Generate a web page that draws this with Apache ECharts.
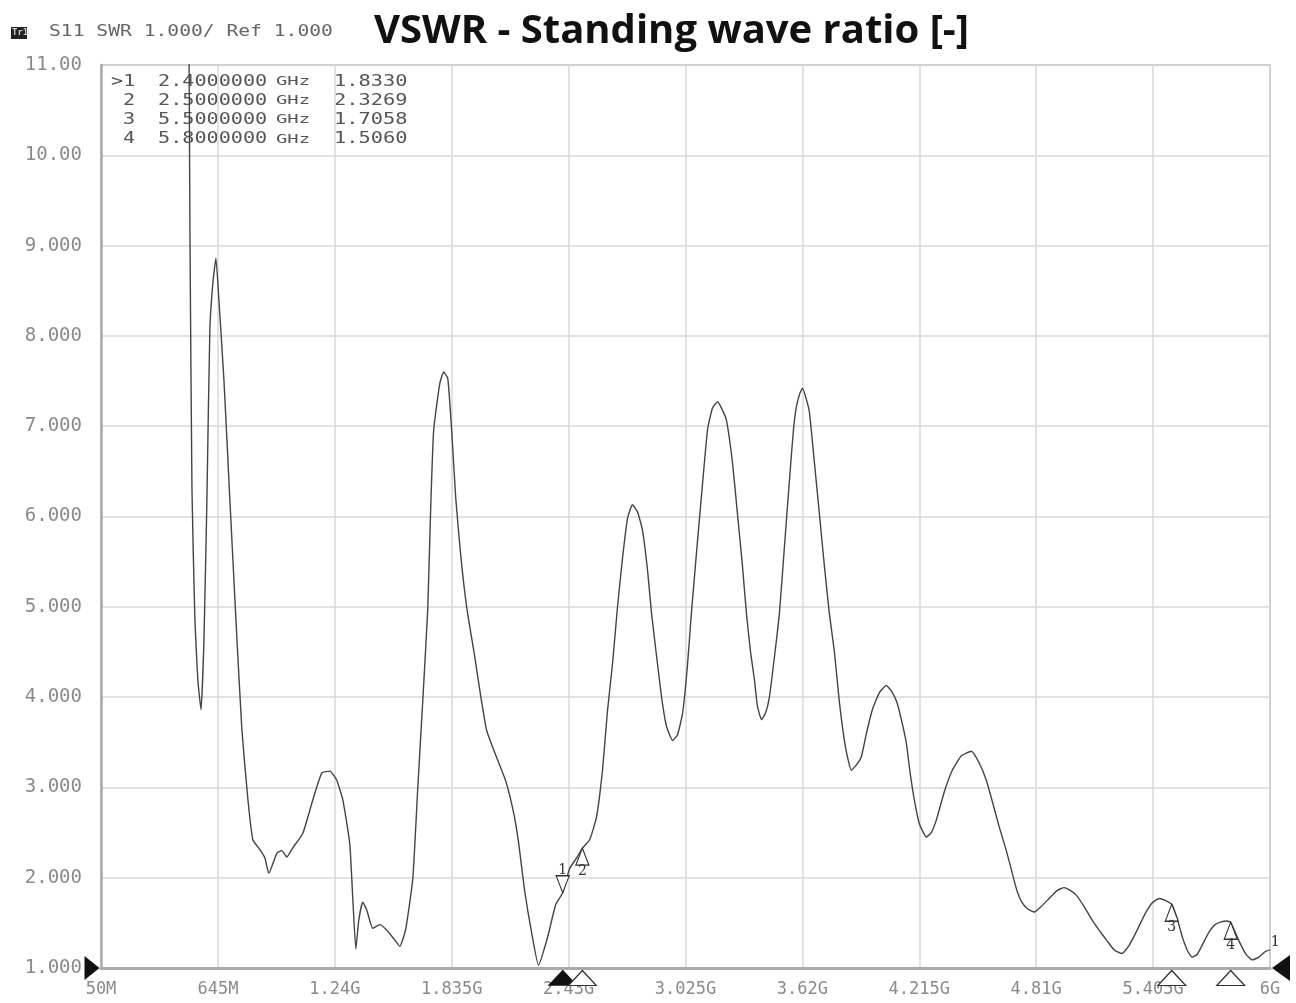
<!DOCTYPE html>
<html><head><meta charset="utf-8">
<script src="https://cdn.jsdelivr.net/npm/echarts@6/dist/echarts.min.js"></script>
<style>html,body{margin:0;padding:0;background:#fff}#c{width:1296px;height:1003px}</style>
</head><body><div id="c"></div>
<script>
// ---- data ----
const startMHz = 50;          // sweep start
const spanStepMHz = 595;      // division width
const freqMHz = [50, 300, 480, 492, 498, 503, 513, 528, 543, 559, 574, 589, 604, 620, 635, 650, 676, 706, 737, 767, 798, 823, 859, 884, 904, 945, 970, 996, 1026, 1077, 1128, 1174, 1215, 1250, 1281, 1316, 1332, 1347, 1362, 1382, 1403, 1433, 1469, 1504, 1545, 1571, 1601, 1637, 1662, 1688, 1713, 1728, 1743, 1774, 1794, 1815, 1835, 1855, 1881, 1911, 1952, 1982, 2013, 2064, 2110, 2150, 2176, 2206, 2242, 2277, 2323, 2364, 2400, 2435, 2471, 2500, 2537, 2572, 2603, 2628, 2654, 2679, 2705, 2730, 2755, 2781, 2806, 2832, 2852, 2878, 2903, 2928, 2959, 2984, 3010, 3035, 3055, 3081, 3106, 3137, 3162, 3188, 3208, 3233, 3264, 3289, 3315, 3335, 3356, 3376, 3391, 3412, 3432, 3452, 3478, 3503, 3528, 3554, 3574, 3589, 3605, 3620, 3640, 3656, 3681, 3706, 3732, 3757, 3783, 3808, 3839, 3869, 3895, 3920, 3946, 3976, 4012, 4047, 4078, 4103, 4129, 4149, 4169, 4190, 4215, 4251, 4276, 4302, 4342, 4383, 4429, 4480, 4520, 4556, 4586, 4622, 4658, 4688, 4713, 4739, 4769, 4800, 4835, 4876, 4917, 4952, 4983, 5013, 5054, 5095, 5130, 5171, 5207, 5247, 5283, 5324, 5364, 5400, 5436, 5466, 5500, 5527, 5553, 5578, 5603, 5629, 5659, 5690, 5720, 5751, 5780, 5800, 5842, 5878, 5909, 5944, 5975, 6000];
const vswr = [25, 22, 16, 13, 11.2, 9.06, 6.3, 4.85, 4.19, 3.86, 4.63, 6.18, 8.07, 8.6, 8.86, 8.4, 7.5, 6.18, 4.85, 3.64, 2.86, 2.42, 2.31, 2.22, 2.05, 2.27, 2.30, 2.23, 2.33, 2.49, 2.86, 3.16, 3.18, 3.08, 2.86, 2.38, 1.75, 1.21, 1.53, 1.73, 1.64, 1.44, 1.48, 1.42, 1.31, 1.24, 1.43, 1.99, 2.98, 3.97, 4.97, 6.09, 6.95, 7.47, 7.60, 7.53, 6.95, 6.22, 5.57, 5.00, 4.45, 4.02, 3.63, 3.33, 3.07, 2.72, 2.38, 1.86, 1.39, 1.03, 1.34, 1.70, 1.833, 2.10, 2.22, 2.327, 2.42, 2.67, 3.20, 3.85, 4.38, 5.00, 5.55, 5.98, 6.13, 6.05, 5.85, 5.40, 4.93, 4.45, 4.00, 3.68, 3.52, 3.58, 3.82, 4.35, 4.93, 5.60, 6.22, 6.96, 7.20, 7.27, 7.20, 7.07, 6.60, 6.04, 5.45, 4.93, 4.50, 4.19, 3.90, 3.75, 3.82, 4.00, 4.45, 4.93, 5.65, 6.40, 6.95, 7.21, 7.35, 7.42, 7.30, 7.15, 6.60, 6.04, 5.45, 4.93, 4.50, 3.95, 3.45, 3.19, 3.25, 3.34, 3.60, 3.86, 4.05, 4.13, 4.05, 3.93, 3.70, 3.49, 3.15, 2.86, 2.60, 2.45, 2.50, 2.64, 2.95, 3.19, 3.35, 3.40, 3.27, 3.08, 2.85, 2.56, 2.30, 2.05, 1.85, 1.72, 1.65, 1.62, 1.68, 1.77, 1.86, 1.89, 1.86, 1.81, 1.68, 1.53, 1.42, 1.30, 1.20, 1.16, 1.25, 1.42, 1.60, 1.72, 1.77, 1.75, 1.706, 1.55, 1.35, 1.20, 1.12, 1.15, 1.27, 1.40, 1.48, 1.51, 1.52, 1.506, 1.30, 1.15, 1.09, 1.12, 1.18, 1.20];
const xTickLabels = ['50M', '645M', '1.24G', '1.835G', '2.43G', '3.025G', '3.62G', '4.215G', '4.81G', '5.405G', '6G'];
const yTickLabels = ['1.000', '2.000', '3.000', '4.000', '5.000', '6.000', '7.000', '8.000', '9.000', '10.00', '11.00'];
const markerIds = ['>1', '2', '3', '4'];
const markerFreqMHz = [2400, 2500, 5500, 5800];
const markerVswr = [1.833, 2.3269, 1.7058, 1.5060];
const markerFreqText = ['2.4000000', '2.5000000', '5.5000000', '5.8000000'];
const markerValText = ['1.8330', '2.3269', '1.7058', '1.5060'];
const headerText = 'S11 SWR 1.000/ Ref 1.000';
const titleText = 'VSWR - Standing wave ratio [-]';

// ---- chart ----
const MONO = 'DejaVu Sans Mono';
const chart = echarts.init(document.getElementById('c'));
const seriesData = freqMHz.map((f, i) => [f - startMHz, vswr[i]]);

const mpData = [];
markerFreqMHz.forEach((f, i) => {
  const active = i === 0;
  // on-trace marker
  mpData.push({
    coord: [f - startMHz, markerVswr[i]],
    symbol: 'triangle',
    symbolRotate: active ? 180 : 0,
    symbolSize: [13, 17],
    symbolOffset: [0, active ? -8.5 : 8.5],
    itemStyle: {color: '#fff', borderColor: '#333', borderWidth: 1.2},
    label: {show: true, formatter: String(i + 1), position: active ? 'top' : 'bottom', distance: -2,
      color: '#333', fontFamily: 'DejaVu Serif', fontSize: 14}
  });
  // axis marker
  mpData.push({
    coord: [f - startMHz, 1],
    symbol: 'triangle',
    symbolSize: [28, 15],
    symbolOffset: [0, 10],
    itemStyle: active ? {color: '#111', borderColor: '#111', borderWidth: 1} : {color: '#fff', borderColor: '#333', borderWidth: 1.2},
    label: {show: false}
  });
});
// reference level arrows
mpData.push({coord: [0, 1], symbol: 'triangle', symbolRotate: -90, symbolSize: [24, 15], symbolOffset: [-9, 0],
  itemStyle: {color: '#111'}, label: {show: false}});
mpData.push({coord: [6000 - startMHz, 1], symbol: 'triangle', symbolRotate: 90, symbolSize: [26, 18], symbolOffset: [11, 0],
  itemStyle: {color: '#111'}, label: {show: false}});
// trace number label
mpData.push({coord: [6000 - startMHz, 1.29], symbol: 'rect', symbolSize: 1, itemStyle: {color: 'rgba(0,0,0,0)'},
  label: {show: true, formatter: '1', position: 'right', distance: 0, color: '#333', fontFamily: 'DejaVu Serif', fontSize: 15}});

const graphics = [
  {type: 'rect', x: 11, y: 27, shape: {width: 16, height: 12}, style: {fill: '#222'}},
  {type: 'text', x: 12, y: 28, style: {text: 'Tr1', fill: '#ccc', font: 'bold 9px ' + MONO}},
  {type: 'text', x: 49, y: 25, scaleX: 1.31, style: {text: headerText, fill: '#666', font: '15px ' + MONO}}
];
const rowY = [73.5, 92.5, 111.5, 131];
markerIds.forEach((id, i) => {
  graphics.push({type: 'text', x: id.length > 1 ? 111 : 123, y: rowY[i], scaleX: 1.26, style: {text: id, fill: '#555', font: '16px ' + MONO}});
  graphics.push({type: 'text', x: 158, y: rowY[i], scaleX: 1.26, style: {text: markerFreqText[i], fill: '#555', font: '16px ' + MONO}});
  graphics.push({type: 'text', x: 276, y: rowY[i] + 2, scaleX: 1.45, style: {text: 'GHz', fill: '#555', font: '13px ' + MONO}});
  graphics.push({type: 'text', x: 334, y: rowY[i], scaleX: 1.27, style: {text: markerValText[i], fill: '#555', font: '16px ' + MONO}});
});

chart.setOption({
  animation: false,
  backgroundColor: '#fff',
  title: {text: titleText, left: 369, top: 7,
    textStyle: {fontFamily: 'Open Sans', fontWeight: 'bold', fontSize: 40, color: '#111'}},
  grid: {left: 101, right: 26, top: 65, bottom: 35, show: true, borderColor: '#a8a8a8', borderWidth: 1.5, containLabel: false},
  xAxis: {
    type: 'value', min: 0, max: 6000 - startMHz, interval: spanStepMHz,
    axisLine: {show: true, onZero: false, lineStyle: {color: '#aaa', width: 3}},
    axisTick: {show: false},
    splitLine: {show: true, lineStyle: {color: '#d8d8d8', width: 1.5}},
    axisLabel: {formatter: v => xTickLabels[Math.round(v / spanStepMHz)], color: '#8a8a8a',
      fontFamily: MONO, fontSize: 17, margin: 13}
  },
  yAxis: {
    type: 'value', min: 1, max: 11, interval: 1,
    axisLine: {show: true, onZero: false, lineStyle: {color: '#aaa', width: 2.5}},
    axisTick: {show: false},
    splitLine: {show: true, lineStyle: {color: '#d8d8d8', width: 1.5}},
    axisLabel: {formatter: v => yTickLabels[Math.round(v) - 1], color: '#8a8a8a',
      fontFamily: MONO, fontSize: 19, margin: 19}
  },
  graphic: graphics,
  series: [{
    type: 'line', data: seriesData, showSymbol: false, clip: true,
    smooth: 0.15,
    lineStyle: {color: '#444', width: 1.4},
    markPoint: {silent: true, animation: false, data: mpData}
  }]
});
</script>
</body></html>
